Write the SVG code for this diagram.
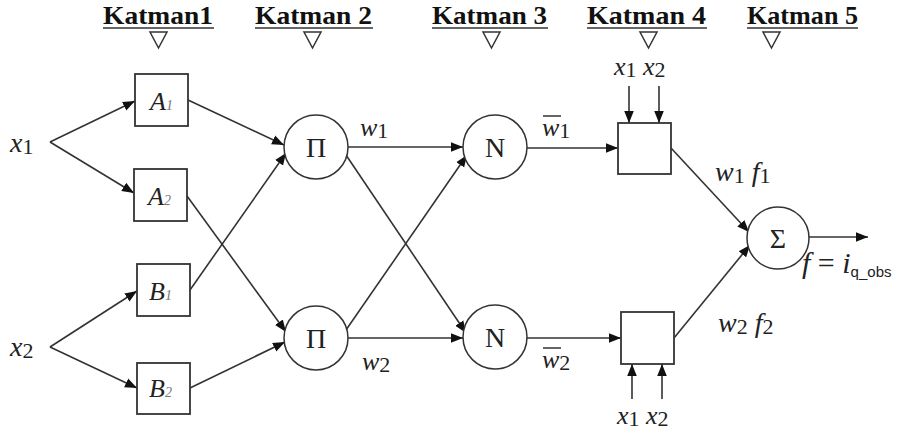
<svg xmlns="http://www.w3.org/2000/svg" width="913" height="434" viewBox="0 0 913 434">
<defs>
<marker id="ah" viewBox="0 0 10 10" refX="10" refY="5" markerWidth="12" markerHeight="12" markerUnits="userSpaceOnUse" orient="auto">
<path d="M0,1 L10,5 L0,9 z" fill="#111"/>
</marker>
</defs>
<g id="headers">
<g stroke="#333" stroke-width="1.5" fill="#fff">
<line x1="103" y1="28" x2="214" y2="28"/>
<path d="M150,32 L167,32 L158.5,48 z"/>
<line x1="255" y1="28" x2="373" y2="28"/>
<path d="M304,32 L321,32 L312.5,48 z"/>
<line x1="432" y1="28" x2="548" y2="28"/>
<path d="M483,32 L500,32 L491.5,48 z"/>
<line x1="587" y1="28" x2="707" y2="28"/>
<path d="M640,32 L657,32 L648.5,48 z"/>
<line x1="747" y1="28" x2="858" y2="28"/>
<path d="M763,32 L780,32 L771.5,48 z"/>
</g>
<text font-family="Liberation Serif" font-weight="bold" font-size="26" fill="#111" x="103" y="24" textLength="110" lengthAdjust="spacingAndGlyphs">Katman1</text>
<text font-family="Liberation Serif" font-weight="bold" font-size="26" fill="#111" x="255" y="24" textLength="117" lengthAdjust="spacingAndGlyphs">Katman 2</text>
<text font-family="Liberation Serif" font-weight="bold" font-size="26" fill="#111" x="432" y="24" textLength="115" lengthAdjust="spacingAndGlyphs">Katman 3</text>
<text font-family="Liberation Serif" font-weight="bold" font-size="26" fill="#111" x="587" y="24" textLength="119" lengthAdjust="spacingAndGlyphs">Katman 4</text>
<text font-family="Liberation Serif" font-weight="bold" font-size="26" fill="#111" x="747" y="24" textLength="111" lengthAdjust="spacingAndGlyphs">Katman 5</text>
</g>
<g id="connectors" fill="none" stroke="#333" stroke-width="1.6" marker-end="url(#ah)">
<path d="M50,142 L135,101"/>
<path d="M50,142 L134,193"/>
<path d="M50,347 L137,291"/>
<path d="M50,347 L137,388"/>
<path d="M188,100 L284,145"/>
<path d="M190,290 L286,153"/>
<path d="M187,196 L286,332"/>
<path d="M190,388 L285,342"/>
<path d="M348,147 L463,147"/>
<path d="M346,155 L466,333"/>
<path d="M346,330 L467,155"/>
<path d="M348,338 L463,338"/>
<path d="M527,148 L618,148"/>
<path d="M527,338 L621,338"/>
<path d="M629,86 L629,123"/>
<path d="M659,86 L659,123"/>
<path d="M632,399 L632,364"/>
<path d="M662,399 L662,364"/>
<path d="M671,148 L749,232"/>
<path d="M674,338 L750,245"/>
<path d="M809,237 L868,237"/>
</g>
<g id="in-x1"><text font-family="Liberation Serif" font-style="italic" font-size="28" fill="#222" x="10" y="152">x<tspan font-style="normal" font-size="22" dy="2">1</tspan></text></g>
<g id="in-x2"><text font-family="Liberation Serif" font-style="italic" font-size="28" fill="#222" x="10" y="356">x<tspan font-style="normal" font-size="22" dy="2">2</tspan></text></g>
<g id="A1"><rect fill="#fff" stroke="#333" stroke-width="1.8" x="135" y="74" width="53" height="52"/><text font-family="Liberation Serif" font-style="italic" font-size="26" fill="#222" x="150" y="110">A<tspan font-size="14" fill="#777">1</tspan></text></g>
<g id="A2"><rect fill="#fff" stroke="#333" stroke-width="1.8" x="134" y="169" width="53" height="52"/><text font-family="Liberation Serif" font-style="italic" font-size="26" fill="#222" x="148" y="205">A<tspan font-size="14" fill="#777">2</tspan></text></g>
<g id="B1"><rect fill="#fff" stroke="#333" stroke-width="1.8" x="137" y="264" width="53" height="52"/><text font-family="Liberation Serif" font-style="italic" font-size="26" fill="#222" x="149" y="300">B<tspan font-size="14" fill="#777">1</tspan></text></g>
<g id="B2"><rect fill="#fff" stroke="#333" stroke-width="1.8" x="137" y="363" width="53" height="51"/><text font-family="Liberation Serif" font-style="italic" font-size="26" fill="#222" x="149" y="397">B<tspan font-size="14" fill="#777">2</tspan></text></g>
<g id="Pi1"><circle fill="#fff" stroke="#333" stroke-width="1.5" cx="316" cy="147" r="32"/><text font-family="Liberation Serif" font-size="28" fill="#222" text-anchor="middle" x="316" y="157">Π</text></g>
<g id="Pi2"><circle fill="#fff" stroke="#333" stroke-width="1.5" cx="316" cy="338" r="32"/><text font-family="Liberation Serif" font-size="28" fill="#222" text-anchor="middle" x="316" y="348">Π</text></g>
<g id="N1"><circle fill="#fff" stroke="#333" stroke-width="1.5" cx="495" cy="147" r="32"/><text font-family="Liberation Serif" font-size="28" fill="#222" text-anchor="middle" x="495" y="157">N</text></g>
<g id="N2"><circle fill="#fff" stroke="#333" stroke-width="1.5" cx="495" cy="337" r="32"/><text font-family="Liberation Serif" font-size="28" fill="#222" text-anchor="middle" x="495" y="347">N</text></g>
<g id="P1"><rect fill="#fff" stroke="#333" stroke-width="1.8" x="618" y="123" width="53" height="51"/></g>
<g id="P2"><rect fill="#fff" stroke="#333" stroke-width="1.8" x="621" y="312" width="53" height="52"/></g>
<g id="Sigma"><circle fill="#fff" stroke="#333" stroke-width="1.5" cx="778" cy="238" r="31"/><text font-family="Liberation Serif" font-size="28" fill="#222" text-anchor="middle" x="778" y="248">Σ</text></g>
<g id="labels">
<text font-family="Liberation Serif" font-style="italic" font-size="26" fill="#222" x="614" y="75">x<tspan font-style="normal" font-size="22" dy="2">1</tspan><tspan dy="-2"> x</tspan><tspan font-style="normal" font-size="22" dy="2">2</tspan></text>
<text font-family="Liberation Serif" font-style="italic" font-size="26" fill="#222" x="617" y="424">x<tspan font-style="normal" font-size="22" dy="2">1</tspan><tspan dy="-2"> x</tspan><tspan font-style="normal" font-size="22" dy="2">2</tspan></text>
<text font-family="Liberation Serif" font-style="italic" font-size="26" fill="#222" x="360" y="136">w<tspan font-style="normal" font-size="22" dy="2">1</tspan></text>
<text font-family="Liberation Serif" font-style="italic" font-size="26" fill="#222" x="362" y="370">w<tspan font-style="normal" font-size="22" dy="2">2</tspan></text>
<text font-family="Liberation Serif" font-style="italic" font-size="26" fill="#222" x="542" y="136">w<tspan font-style="normal" font-size="22" dy="2">1</tspan></text>
<line stroke="#333" stroke-width="1.5" x1="543" y1="116" x2="561" y2="116"/>
<text font-family="Liberation Serif" font-style="italic" font-size="26" fill="#222" x="542" y="368">w<tspan font-style="normal" font-size="22" dy="2">2</tspan></text>
<line stroke="#333" stroke-width="1.5" x1="543" y1="348" x2="561" y2="348"/>
<text font-family="Liberation Serif" font-style="italic" font-size="28" fill="#222" x="715" y="181">w<tspan font-style="normal" font-size="22" dy="2">1</tspan><tspan dy="-2"> f</tspan><tspan font-style="normal" font-size="22" dy="2">1</tspan></text>
<text font-family="Liberation Serif" font-style="italic" font-size="28" fill="#222" x="718" y="332">w<tspan font-style="normal" font-size="22" dy="2">2</tspan><tspan dy="-2"> f</tspan><tspan font-style="normal" font-size="22" dy="2">2</tspan></text>
<text font-family="Liberation Serif" font-style="italic" font-size="30" fill="#222" x="802" y="273">f<tspan font-style="normal"> = </tspan>i<tspan font-style="normal" font-family="Liberation Sans" font-size="15" dy="4">q_obs</tspan></text>
</g>
</svg>
